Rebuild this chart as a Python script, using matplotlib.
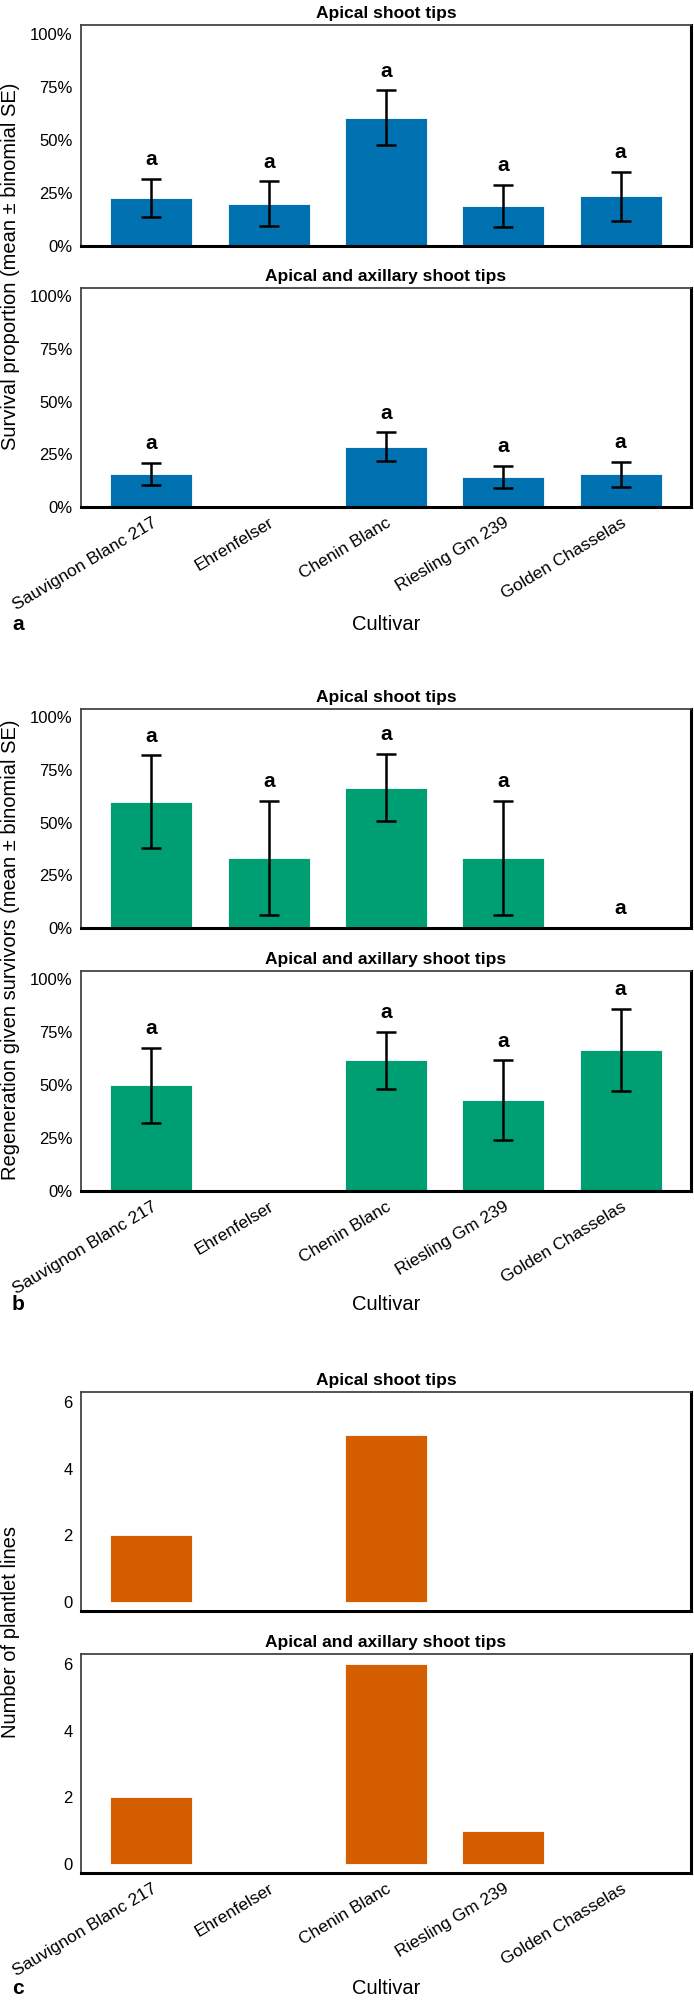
import numpy as np
import matplotlib.pyplot as plt
from matplotlib.ticker import PercentFormatter

plt.rcParams['font.family'] = ['Liberation Sans', 'DejaVu Sans']

cultivars = ['Sauvignon Blanc 217', 'Ehrenfelser', 'Chenin Blanc',
             'Riesling Gm 239', 'Golden Chasselas']

# a: survival proportion (mean, binomial SE)
surv_apical = [0.227, 0.200, 0.604, 0.189, 0.233]
surv_apical_se = [0.090, 0.104, 0.128, 0.099, 0.117]
surv_axil = [0.157, np.nan, 0.287, 0.143, 0.155]
surv_axil_se = [0.053, np.nan, 0.068, 0.051, 0.060]
surv_apical_let = ['a', 'a', 'a', 'a', 'a']
surv_axil_let = ['a', '', 'a', 'a', 'a']

# b: regeneration given survivors
regen_apical = [0.600, 0.333, 0.667, 0.333, 0.0]
regen_apical_se = [0.220, 0.272, 0.160, 0.272, 0.0]
regen_axil = [0.500, np.nan, 0.619, 0.429, 0.667]
regen_axil_se = [0.177, np.nan, 0.135, 0.188, 0.193]
regen_apical_let = ['a', 'a', 'a', 'a', 'a']
regen_axil_let = ['a', '', 'a', 'a', 'a']

# c: number of plantlet lines
lines_apical = [2, 0, 5, 0, 0]
lines_axil = [2, 0, 6, 1, 0]

BLUE = '#0072B2'
GREEN = '#009E73'
ORANGE = '#D55E00'

W, H = 694, 2000
fig = plt.figure(figsize=(W / 100, H / 100), dpi=100)
x = np.arange(len(cultivars))


def make_ax(top, bottom):
    left, right = 81, 691
    return fig.add_axes([left / W, 1 - bottom / H, (right - left) / W, (bottom - top) / H])


def style(ax, title, show_x):
    ax.set_title(title, fontsize=12.5, fontweight='bold', pad=5)
    ax.set_xlim(-0.6, 4.6)
    ax.tick_params(length=0, labelsize=12, pad=6)
    for s in ['left', 'top']:
        ax.spines[s].set_linewidth(1.3)
        ax.spines[s].set_color('#444444')
    for s in ['right', 'bottom']:
        ax.spines[s].set_linewidth(2.2)
        ax.spines[s].set_color('black')
    ax.set_xticks(x)
    if show_x:
        ax.set_xticklabels(cultivars, rotation=31, ha='right',
                           rotation_mode='anchor', fontsize=12.5)
    else:
        ax.set_xticklabels([])


def pct_panel(ax, vals, ses, lets, color, title, show_x):
    vals = np.array(vals, dtype=float)
    ses = np.array(ses, dtype=float)
    ax.bar(x, np.nan_to_num(vals), width=0.7, color=color,
           edgecolor='white', linewidth=0.6)
    ax.errorbar(x, vals, yerr=ses, fmt='none', ecolor='black',
                elinewidth=1.8, capsize=7, capthick=1.8)
    for xi, v, s, l in zip(x, vals, ses, lets):
        if l:
            ax.annotate(l, (xi, v + s), xytext=(0, 7), textcoords='offset points',
                        ha='center', va='bottom', fontsize=15, fontweight='bold')
    ax.set_ylim(0, 1.04)
    ax.set_yticks([0, 0.25, 0.5, 0.75, 1.0])
    ax.yaxis.set_major_formatter(PercentFormatter(1.0, decimals=0))
    style(ax, title, show_x)


def count_panel(ax, vals, color, title, show_x):
    ax.bar(x, vals, width=0.7, color=color, edgecolor='white', linewidth=0.6)
    ax.set_ylim(-0.27, 6.3)
    ax.set_yticks([0, 2, 4, 6])
    style(ax, title, show_x)


# panel a
a1 = make_ax(25, 246)
a2 = make_ax(288, 507)
pct_panel(a1, surv_apical, surv_apical_se, surv_apical_let, BLUE, 'Apical shoot tips', False)
pct_panel(a2, surv_axil, surv_axil_se, surv_axil_let, BLUE, 'Apical and axillary shoot tips', True)

# panel b
b1 = make_ax(709, 928)
b2 = make_ax(971, 1191)
pct_panel(b1, regen_apical, regen_apical_se, regen_apical_let, GREEN, 'Apical shoot tips', False)
pct_panel(b2, regen_axil, regen_axil_se, regen_axil_let, GREEN, 'Apical and axillary shoot tips', True)

# panel c
c1 = make_ax(1392, 1611)
c2 = make_ax(1654, 1873)
count_panel(c1, lines_apical, ORANGE, 'Apical shoot tips', False)
count_panel(c2, lines_axil, ORANGE, 'Apical and axillary shoot tips', True)

# shared labels
ylabels = [('Survival proportion (mean ± binomial SE)', 266),
           ('Regeneration given survivors (mean ± binomial SE)', 950),
           ('Number of plantlet lines', 1632)]
for txt, yc in ylabels:
    fig.text(11 / W, 1 - yc / H, txt, rotation=90, ha='center', va='center', fontsize=14.5)

for letter, yc in [('a', 625), ('b', 1305), ('c', 1988)]:
    fig.text(386 / W, 1 - yc / H, 'Cultivar', ha='center', va='center', fontsize=14.5)
    fig.text(18 / W, 1 - yc / H, letter, ha='center', va='center', fontsize=15, fontweight='bold')

fig.savefig('out.png', dpi=100)
